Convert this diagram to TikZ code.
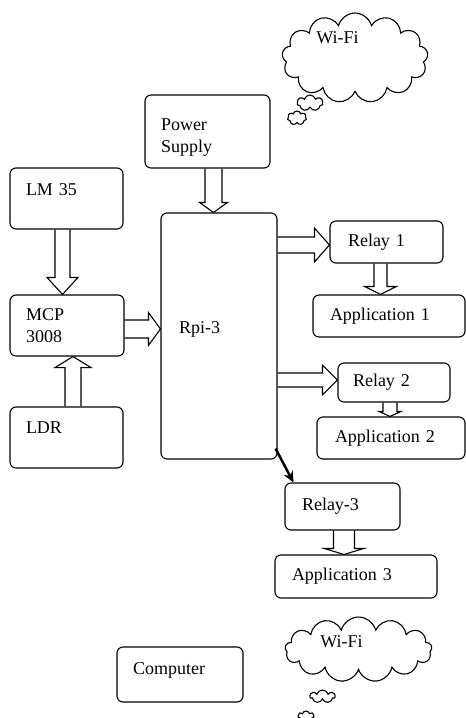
\documentclass[tikz,border=0pt]{standalone}
\usepackage{fontspec}
\setmainfont{Liberation Serif}
\usetikzlibrary{calc,shapes.symbols,arrows.meta}

\tikzset{
  blk/.style n args={3}{sharp corners, to path={
    let \p1=(\tikztostart), \p2=(\tikztotarget), \p3=($(\p2)!#3!(\p1)$) in
    ($(\p1)!#1!90:(\p2)$) -- ($(\p3)!#1!-90:(\p1)$) -- ($(\p3)!#2!-90:(\p1)$)
    -- (\p2) -- ($(\p3)!#2!90:(\p1)$) -- ($(\p3)!#1!90:(\p1)$) -- ($(\p1)!#1!-90:(\p2)$)}}
}

\begin{document}
\begin{tikzpicture}[x=1pt,y=-1pt,line width=1.1pt,font=\fontsize{18}{22}\selectfont]
\tikzstyle{box}=[draw, rounded corners=6pt, align=left, inner xsep=16pt, inner ysep=0pt]
\tikzstyle{puff}=[draw, fill=white, cloud, cloud puffs=13, cloud ignores aspect, inner sep=0pt]

\useasboundingbox (0,0) rectangle (466,718);

\draw (207.5,131.5) node[box, minimum width=125pt, minimum height=73pt, text width=93pt, text depth=14pt] (ps) {Power\\Supply};
\draw (66.5,198.5) node[box, minimum width=113pt, minimum height=61pt, text width=81pt, text depth=17pt] (lm) {LM 35};
\draw (67,325.5) node[box, minimum width=114pt, minimum height=61pt, text width=82pt] (mcp) {MCP\\3008};
\draw (66.5,437.5) node[box, minimum width=113pt, minimum height=61pt, text width=81pt, text depth=19pt] (ldr) {LDR};
\draw (219,336) node[box, minimum width=114pt, minimum height=246pt, text width=80pt, text depth=16pt, inner xsep=18pt] (rpi) {Rpi-3};

\draw (386.5,242) node[box, minimum width=113pt, minimum height=42pt, text width=77pt, inner xsep=18pt] (r1) {Relay 1};
\draw (389,316) node[box, minimum width=152pt, minimum height=42pt, text width=118pt, inner xsep=17pt] (a1) {Application 1};
\draw (394,382.5) node[box, minimum width=112pt, minimum height=39pt, text width=82pt, inner xsep=15pt] (r2) {Relay 2};
\draw (391,438) node[box, minimum width=148pt, minimum height=42pt, text width=112pt, inner xsep=18pt] (a2) {Application 2};
\draw (342.5,506.5) node[box, minimum width=115pt, minimum height=47pt, text width=81pt, inner xsep=17pt] (r3) {Relay-3};
\draw (356,576.5) node[box, minimum width=162pt, minimum height=43pt, text width=128pt, inner xsep=17pt] (a3) {Application 3};
\draw (180,674.5) node[box, minimum width=126pt, minimum height=55pt, text width=94pt, text depth=12pt] (comp) {Computer};

% clouds
\draw (355,58) node[puff, minimum width=146pt, minimum height=90pt] (wifi1) {};
\draw (310,103) node[puff, cloud puffs=7, minimum width=26pt, minimum height=16pt] (bub1) {};
\draw (297,118) node[puff, cloud puffs=7, minimum width=19pt, minimum height=14pt] (bub2) {};
\draw (337.5,38) node (wifi1txt) {Wi-Fi};

\draw (358.5,649.5) node[puff, minimum width=147pt, minimum height=65pt] (wifi2) {};
\draw (322.5,696.5) node[puff, cloud puffs=7, minimum width=25pt, minimum height=13pt] (bub3) {};
\draw (306,716) node[puff, cloud puffs=7, minimum width=16pt, minimum height=10pt] (bub4) {};
\draw (341.5,642) node (wifi2txt) {Wi-Fi};

% block arrows
\draw[blk={8.5pt}{14pt}{10pt}] ($(ps.south)+(6,0)$) to ($(rpi.north)+(-5.5,0)$);
\draw[blk={7.5pt}{15.5pt}{17pt}] ($(lm.south)+(-4,0)$) to ($(mcp.north)+(-4.5,0)$);
\draw[blk={8pt}{18pt}{11pt}] ($(ldr.north)+(6.5,0)$) to ($(mcp.south)+(6,0)$);
\draw[blk={9pt}{16.5pt}{12pt}] ($(mcp.east)+(0,3.5)$) to ($(rpi.west |- mcp.east)+(0,3.5)$);
\draw[blk={8pt}{17pt}{15pt}] ($(rpi.east |- r1.east)+(0,3)$) to ($(r1.west)+(0,3)$);
\draw[blk={6.5pt}{16pt}{8pt}] ($(r1.south)+(-6,0)$) to ($(a1.north)+(-8.5,0)$);
\draw[blk={7pt}{15pt}{15pt}] ($(rpi.east |- r2.east)+(0,-2.5)$) to ($(r2.west)+(0,-2.5)$);
\draw[blk={7pt}{11pt}{5pt}] ($(r2.south)+(-4,0)$) to ($(a2.north)+(-1,0)$);
\draw[blk={10.5pt}{20pt}{6pt}] ($(r3.south)+(1.5,0)$) to ($(a3.north)+(-12,0)$);

\draw[line width=2.5pt, -{Stealth[length=11pt,width=10pt]}] ($(rpi.south east)+(-2,-11)$) -- ($(r3.north west)+(9,0)$);

\end{tikzpicture}
\end{document}
